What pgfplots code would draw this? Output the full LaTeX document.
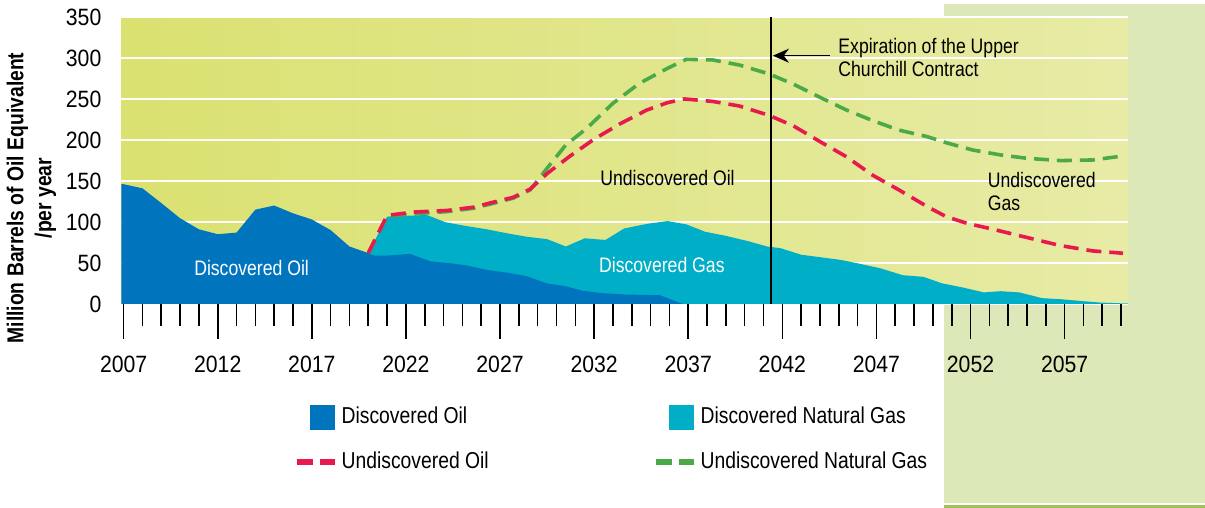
\documentclass[border=0pt]{standalone}
\usepackage{fontspec}
\setmainfont{Liberation Sans}[FakeStretch=0.84]
\newfontfamily\tickfont{Liberation Sans}[FakeStretch=0.9]
\usepackage{pgfplots}
\pgfplotsset{compat=1.18}
\usetikzlibrary{arrows.meta}
\definecolor{bgL}{HTML}{DAE170}
\definecolor{bgR}{HTML}{E7EBA6}
\definecolor{panel}{HTML}{DCE8B8}
\definecolor{panelline}{HTML}{9DC35A}
\definecolor{oilblue}{HTML}{0075BE}
\definecolor{gascyan}{HTML}{00AEC7}
\definecolor{oilred}{HTML}{E8194F}
\definecolor{gasgreen}{HTML}{4BAA47}
\newcommand\lblfont{\fontsize{10.5}{11.5}\selectfont}
\begin{document}
\begin{tikzpicture}
\path (0,0) rectangle (602.5pt,254pt);
\fill[panel] (472pt,2.65pt) rectangle (602.5pt,252pt);
\fill[panelline] (472pt,0pt) rectangle (602.5pt,1.2pt);
\begin{axis}[
  at={(60.5pt,102pt)}, anchor=south west,
  width=503.5pt, height=143.5pt, scale only axis,
  xmin=2006.88, xmax=2060.37, ymin=0, ymax=350,
  axis line style={draw=none},
  axis background/.style={left color=bgL, right color=bgR},
  ytick={0,50,...,350},
  ymajorgrids, grid style={white, line width=0.8pt},
  xtick={2007,2012,...,2057},
  minor xtick={2007,2008,...,2060},
  tick pos=left,
  tick align=outside,
  major tick length=17.5pt, minor tick length=11pt,
  tick style={black, line width=0.8pt},
  major y tick style={draw=none},
  /pgf/number format/1000 sep={},
  /pgf/number format/assume math mode=true,
  xticklabel style={font=\tickfont\fontsize{11.8}{12}\selectfont, yshift=-5pt},
  yticklabel style={font=\tickfont\fontsize{11.8}{12}\selectfont, xshift=11pt},
  ylabel={Million Barrels of Oil Equivalent\\/per year},
  every axis y label/.style={at={(axis description cs:-0.0894,0.369)}, rotate=90, anchor=center, align=center, font=\fontsize{11.5}{14}\selectfont\bfseries},
  legend columns=2,
  legend cell align=left,
  legend style={at={(axis description cs:0.1708,-0.345)}, anchor=north west, draw=none, fill=none, inner sep=0pt, font=\fontsize{11.5}{13}\selectfont, /tikz/every even column/.append style={column sep=80pt}, row sep=8.5pt},
]
\addplot[fill=gascyan, draw=none, forget plot] coordinates {
(2020,62) (2021,106.5) (2023.1,108.5) (2024.1,99.6) (2025.2,95) (2026.3,91) (2027.4,86) (2028.4,82) (2029.5,79) (2030.5,70) (2031.5,80) (2032.6,78) (2033.6,92) (2034.8,97.6) (2035.9,101) (2036.9,97) (2037.9,88) (2039.0,83) (2040.1,77) (2041.2,70) (2041.9,68) (2043.0,60) (2044.0,57) (2045.1,53.7) (2046.1,49) (2047.2,43.5) (2048.4,35) (2049.5,33) (2050.5,25) (2051.6,20) (2052.7,14) (2053.6,15.5) (2054.6,14) (2055.8,7) (2056.8,5.7) (2057.8,3.7) (2058.9,1.6) (2059.9,0.8) (2060.37,0.5)
} \closedcycle;
\addplot[fill=oilblue, draw=none, forget plot] coordinates {
(2006.88,146) (2007,146) (2008,141) (2009,123) (2010,104.5) (2011,91) (2012,85) (2013,87) (2014,115) (2015,120) (2016,110.5) (2017,103) (2018,90) (2019,70) (2020,62) (2020.3,59) (2021,59) (2022.2,61) (2023.3,52) (2024.35,49.6) (2025.2,47) (2026.3,41.5) (2027.4,38) (2028.4,34) (2029.5,25) (2030.4,22) (2031.4,16) (2032.5,13) (2033.7,11.4) (2035.5,10.6) (2036.7,0)
} \closedcycle;
\addplot[gasgreen, line width=1.8pt, dash pattern=on 7.5pt off 4pt, forget plot] coordinates {
(2020,62) (2021,107) (2023.1,111) (2024.2,112.6) (2025.6,116.7) (2026.8,123.6) (2027.7,129) (2028.6,139) (2029.5,165.5) (2030.5,194) (2031.6,214) (2033.0,244.7) (2034.4,269) (2035.9,287.4) (2036.9,298.4) (2038.3,297.6) (2039.7,291.5) (2041.3,280.5) (2042.6,268) (2044.0,252) (2045.4,236.6) (2046.8,223.6) (2048.2,212) (2049.7,204) (2050.7,196.7) (2052.1,187.8) (2053.6,181.7) (2055.0,177.6) (2056.8,174.8) (2058.5,175.6) (2060.1,180.5)
};
\addplot[oilred, line width=1.8pt, dash pattern=on 7.5pt off 4pt, forget plot] coordinates {
(2020,62) (2021,108) (2022.4,112) (2024.2,114) (2025.6,118) (2026.8,125) (2027.7,130) (2028.6,140) (2029.5,159) (2030.7,180) (2032.0,201) (2033.4,220) (2034.8,236.5) (2035.9,245.5) (2036.8,250) (2038.3,247) (2039.7,241.5) (2041.3,230) (2042.6,217) (2044.0,198) (2045.4,179.6) (2046.8,157) (2048.2,139) (2049.7,118.7) (2050.7,106.5) (2051.8,98.4) (2053.2,91) (2055.0,81) (2056.8,71) (2058.5,64.6) (2060.1,61.8)
};
\addlegendimage{draw=none, legend image code/.code={\path[draw=none, fill=none] (0pt,-6.25pt) rectangle (19pt,6.25pt); \fill[oilblue, draw=none] (6.5pt,-6.25pt) rectangle (19pt,6.25pt);}}
\addlegendentry{Discovered Oil}
\addlegendimage{draw=none, legend image code/.code={\path[draw=none, fill=none] (0pt,-6.25pt) rectangle (19pt,6.25pt); \fill[gascyan, draw=none] (6.5pt,-6.25pt) rectangle (19pt,6.25pt);}}
\addlegendentry{Discovered Natural Gas}
\addlegendimage{draw=none, legend image code/.code={\path[draw=none, fill=none] (0pt,-6.25pt) rectangle (19pt,6.25pt); \draw[draw=oilred, fill=none, line width=3pt] (0pt,0pt) -- (8pt,0pt) (11.5pt,0pt) -- (19pt,0pt);}}
\addlegendentry{Undiscovered Oil}
\addlegendimage{draw=none, legend image code/.code={\path[draw=none, fill=none] (0pt,-6.25pt) rectangle (19pt,6.25pt); \draw[draw=gasgreen, fill=none, line width=3pt] (0pt,0pt) -- (8pt,0pt) (11.5pt,0pt) -- (19pt,0pt);}}
\addlegendentry{Undiscovered Natural Gas}
\draw[black, line width=0.65pt] (axis cs:2041.4,0) -- (axis cs:2041.4,350);
\draw[black, line width=0.65pt, -{Stealth[length=8pt,width=7pt]}] (axis cs:2044.55,302.8) -- (axis cs:2041.5,302.8);
\node[anchor=west, align=left, inner sep=0pt, font=\lblfont] at (axis cs:2044.96,300.6) {Expiration of the Upper\\Churchill Contract};
\node[text=white, font=\lblfont] at (axis cs:2013.8,44) {Discovered Oil};
\node[text=white, font=\lblfont] at (axis cs:2035.6,47.6) {Discovered Gas};
\node[font=\lblfont] at (axis cs:2035.9,153) {Undiscovered Oil};
\node[anchor=west, align=left, inner sep=0pt, font=\lblfont] at (axis cs:2052.9,136.6) {Undiscovered\\Gas};
\end{axis}
\end{tikzpicture}
\end{document}
